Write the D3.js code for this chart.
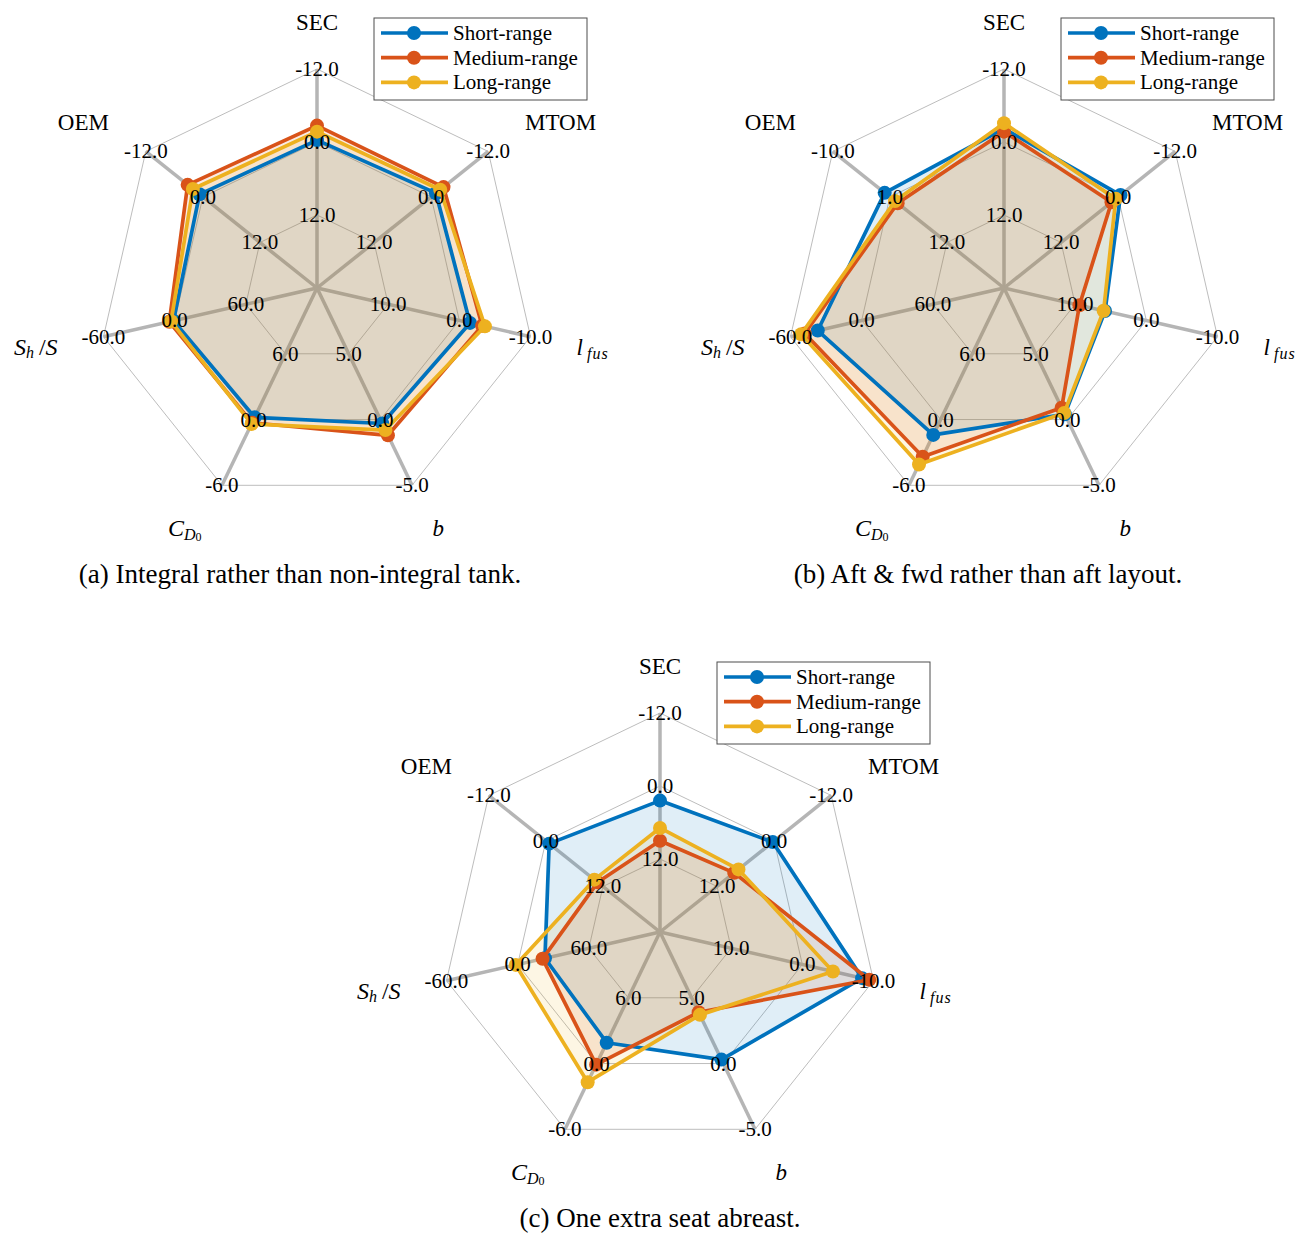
<!DOCTYPE html>
<html>
<head>
<meta charset="utf-8">
<script src="https://cdn.jsdelivr.net/npm/d3@7"></script>
<style>
  body { margin: 0; background: #fff; }
  text { font-family: "Liberation Serif", "DejaVu Serif", serif; fill: #000; }
</style>
</head>
<body>
<svg id="fig"></svg>
<script>
// axes of every radar, clockwise from the top
const axisNames = ["SEC", "MTOM", "l_fus", "b", "C_D0", "S_h/S", "OEM"];
const seriesNames = ["Short-range", "Medium-range", "Long-range"];
const colors = ["#0072BD", "#D95319", "#EDB120"];

// tick values per axis: inner ring, middle ring, outer ring
const ticksA = [[12, 0, -12], [12, 0, -12], [10, 0, -10], [5, 0, -5], [6, 0, -6], [60, 0, -60], [12, 0, -12]];
const ticksB = [[12, 0, -12], [12, 0, -12], [10, 0, -10], [5, 0, -5], [6, 0, -6], [60, 0, -60], [12, 1, -10]];
const ticksC = [[12, 0, -12], [12, 0, -12], [10, 0, -10], [5, 0, -5], [6, 0, -6], [60, 0, -60], [12, 0, -12]];

// (a) integral rather than non-integral tank
const shortA  = [-0.3, -1.0, -1.5, -0.3,  0.2, -1.0, -0.7];
const mediumA = [-2.7, -2.6, -3.2, -1.2, -0.3, -4.5, -3.2];
const longA   = [-1.7, -1.9, -3.6, -0.8, -0.4, -3.0, -2.1];

// (b) aft & fwd rather than aft layout
const shortB  = [-2.2, -0.5, 5.8, 0.4, -1.4, -37, 0.0];
const mediumB = [-1.7,  1.4, 9.4, 0.9, -3.4, -48, 2.5];
const longB   = [-3.1,  0.5, 6.0, 0.5, -4.1, -51, 2.0];

// (c) one extra seat abreast
const shortC  = [2.4, 0.3, -8.4, 0.3,  1.9, 23.0,  0.7];
const mediumC = [9.0, 8.4, -9.4, 3.9, -0.1, 21.0, 10.9];
const longC   = [6.9, 7.5, -4.3, 3.7, -1.7, -1.6, 10.2];

const W = 1297, H = 1236;
const R = 219;

const svg = d3.select("#fig").attr("width", W).attr("height", H);

// label pieces: [text, italic, size, dy, letter spacing]
function labelParts(name) {
  if (name == "l_fus") return [["l", true, 23, 0, 0], ["\u2009fus", true, 16, 6, 1]];
  if (name == "b") return [["b", true, 23, 0, 0]];
  if (name == "C_D0") return [["C", true, 24, 0, 0], ["D", true, 16, 6, 0], ["0", false, 12, 3, 0]];
  if (name == "S_h/S") return [["S", true, 24, 0, 0], ["h", true, 16, 5, 0], ["\u2009/", false, 24, -5, 0], ["S", true, 24, 0, 0]];
  return [[name, false, 23, 0, 0]];
}

function drawRadar(cx, cy, ticks, values, caption, capX, capY) {
  const g = svg.append("g");
  const n = axisNames.length;
  const angle = i => i * 2 * Math.PI / n;
  const pt = (i, r) => [cx + r * Math.sin(angle(i)), cy - r * Math.cos(angle(i))];

  // one scale per axis, inner tick at R/3, outer tick at R
  const scales = ticks.map(t => d3.scaleLinear().domain([t[0], t[2]]).range([R / 3, R]));

  // web
  const line = d3.line().curve(d3.curveLinearClosed);
  [1, 2, 3].forEach(k => {
    g.append("path")
      .attr("d", line(d3.range(n).map(i => pt(i, R * k / 3))))
      .attr("fill", "none")
      .attr("stroke", "#bdbdbd")
      .attr("stroke-width", 1);
  });

  // spokes
  g.selectAll(".spoke").data(d3.range(n)).join("line")
    .attr("x1", cx).attr("y1", cy)
    .attr("x2", i => pt(i, R)[0]).attr("y2", i => pt(i, R)[1])
    .attr("stroke", "#b5b5b5")
    .attr("stroke-width", 3.5);

  const pointsets = values.map(vals => vals.map((v, i) => pt(i, scales[i](v))));

  // fills under every line
  pointsets.forEach((pts, s) => {
    g.append("path")
      .attr("d", line(pts))
      .attr("fill", colors[s])
      .attr("fill-opacity", 0.12)
      .attr("stroke", "none");
  });

  // lines and markers
  pointsets.forEach((pts, s) => {
    g.append("path")
      .attr("d", line(pts))
      .attr("fill", "none")
      .attr("stroke", colors[s])
      .attr("stroke-width", 3.7)
      .attr("stroke-linejoin", "round");
    g.selectAll(".m" + s).data(pts).join("circle")
      .attr("cx", d => d[0]).attr("cy", d => d[1])
      .attr("r", 7)
      .attr("fill", colors[s]);
  });

  // tick labels
  ticks.forEach((t, i) => {
    t.forEach((v, k) => {
      const p = pt(i, R * (k + 1) / 3);
      g.append("text")
        .attr("x", p[0]).attr("y", p[1])
        .attr("text-anchor", "middle")
        .attr("dominant-baseline", "central")
        .style("font-size", "21px")
        .text(v.toFixed(1));
    });
  });

  // axis labels
  axisNames.forEach((name, i) => {
    const p = pt(i, R * 1.215);
    const sx = Math.sin(angle(i));
    const anchor = Math.abs(sx) < 0.01 ? "middle" : (sx > 0 ? "start" : "end");
    const t = g.append("text")
      .attr("x", p[0]).attr("y", p[1])
      .attr("text-anchor", anchor)
      .attr("dominant-baseline", "central");
    labelParts(name).forEach(part => {
      t.append("tspan")
        .attr("dy", part[3])
        .style("font-size", part[2] + "px")
        .style("font-style", part[1] ? "italic" : "normal")
        .style("letter-spacing", part[4] + "px")
        .text(part[0]);
    });
  });

  // legend
  const lx = cx + 57, ly = cy - 270;
  const lg = g.append("g").attr("transform", `translate(${lx},${ly})`);
  lg.append("rect")
    .attr("width", 213).attr("height", 82)
    .attr("fill", "#fff")
    .attr("stroke", "#4d4d4d")
    .attr("stroke-width", 1);
  seriesNames.forEach((name, s) => {
    const y = 15 + s * 24.7;
    lg.append("line")
      .attr("x1", 7).attr("x2", 74).attr("y1", y).attr("y2", y)
      .attr("stroke", colors[s]).attr("stroke-width", 3.7);
    lg.append("circle").attr("cx", 40).attr("cy", y).attr("r", 7).attr("fill", colors[s]);
    lg.append("text")
      .attr("x", 79).attr("y", y)
      .attr("dominant-baseline", "central")
      .style("font-size", "21px")
      .text(name);
  });

  // caption
  svg.append("text")
    .attr("x", capX).attr("y", capY)
    .attr("text-anchor", "middle")
    .style("font-size", "27px")
    .text(caption);
}

drawRadar(317, 288, ticksA, [shortA, mediumA, longA], "(a) Integral rather than non-integral tank.", 300, 583);
drawRadar(1004, 288, ticksB, [shortB, mediumB, longB], "(b) Aft & fwd rather than aft layout.", 988, 583);
drawRadar(660, 932, ticksC, [shortC, mediumC, longC], "(c) One extra seat abreast.", 660, 1227);
</script>
</body>
</html>
